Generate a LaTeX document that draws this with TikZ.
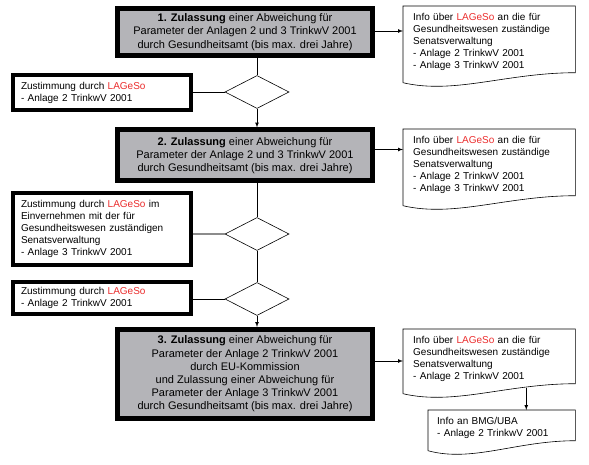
\documentclass[tikz,border=0pt]{standalone}
\usepackage{fontspec}
\setmainfont{Liberation Sans}
\usepackage{xcolor}
\usepackage{tikz}
\usetikzlibrary{shapes,arrows,positioning,calc}

\definecolor{boxgray}{RGB}{180,180,184}
\definecolor{lagesored}{RGB}{235,45,45}
\definecolor{linkgray}{RGB}{140,140,140}
\newcommand{\lageso}{\textcolor{lagesored}{LAGeSo}}
% document outline with wavy bottom
\newcommand{\docframe}[1]{%
  \draw[line width=0.6pt] ($(#1.south west)+(0,-5)$) -- (#1.north west) -- (#1.north east) -- ($(#1.south east)+(0,5)$)
    .. controls ($(#1.south west)!0.6!(#1.south east)+(0,5)$) and ($(#1.south west)!0.3!(#1.south east)+(0,-17)$)
    .. ($(#1.south west)+(0,-5)$);}

\begin{document}
\begin{tikzpicture}[x=1pt, y=1pt,
    mainbox/.style={rectangle, draw, line width=5pt, fill=boxgray, align=center, minimum width=255pt, inner sep=0pt, font=\fontsize{11}{13.2}\selectfont},
    sidebox/.style={rectangle, draw, line width=3.5pt, fill=white, align=left, text width=162pt, inner xsep=8pt, inner ysep=0pt, font=\fontsize{10}{12}\selectfont},
    docbox/.style={rectangle, anchor=north west, align=left, text width=152pt, inner xsep=10pt, inner ysep=7pt, font=\fontsize{10}{12}\selectfont},
    decision/.style={diamond, draw, line width=0.6pt, minimum width=64pt, minimum height=33pt, inner sep=0pt},
    link/.style={line width=0.7pt},
    arrow/.style={->, >=latex, line width=0.7pt}
]
    \useasboundingbox (0,0) rectangle (589,-465);

    % Main steps
    \node[mainbox, minimum height=47pt] (main1) at (245,-32) {\textbf{1. Zulassung} einer Abweichung für\\Parameter der Anlagen 2 und 3 TrinkwV 2001\\durch Gesundheitsamt (bis max. drei Jahre)};
    \node[mainbox, minimum height=51pt] (main2) at (245,-155.5) {\textbf{2. Zulassung} einer Abweichung für\\Parameter der Anlage 2 und 3 TrinkwV 2001\\durch Gesundheitsamt (bis max. drei Jahre)};
    \node[mainbox, minimum height=89pt] (main3) at (245,-374) {\textbf{3. Zulassung} einer Abweichung für\\Parameter der Anlage 2 TrinkwV 2001\\durch EU-Kommission\\und Zulassung einer Abweichung für\\Parameter der Anlage 3 TrinkwV 2001\\durch Gesundheitsamt (bis max. drei Jahre)};

    % Decisions
    \node[decision] (dec1) at (257,-92) {};
    \node[decision] (dec2) at (257,-234) {};
    \node[decision] (dec3) at (257,-299) {};

    % Approvals (left side)
    \node[sidebox, minimum height=35pt] (appr1) at (102,-92.5) {Zustimmung durch \lageso\\- Anlage 2 TrinkwV 2001};
    \node[sidebox, minimum height=72pt] (appr2) at (102,-229) {Zustimmung durch \lageso{} im\\Einvernehmen mit der für\\Gesundheitswesen zuständigen\\Senatsverwaltung\\- Anlage 3 TrinkwV 2001};
    \node[sidebox, minimum height=32pt] (appr3) at (102,-298) {Zustimmung durch \lageso\\- Anlage 2 TrinkwV 2001};

    % Info documents (right side)
    \node[docbox] (info1) at (403,-6) {Info über \lageso{} an die für\\Gesundheitswesen zuständige\\Senatsverwaltung\\- Anlage 2 TrinkwV 2001\\- Anlage 3 TrinkwV 2001};
    \node[docbox] (info2) at (403,-129) {Info über \lageso{} an die für\\Gesundheitswesen zuständige\\Senatsverwaltung\\- Anlage 2 TrinkwV 2001\\- Anlage 3 TrinkwV 2001};
    \node[docbox] (info3) at (403,-329) {Info über \lageso{} an die für\\Gesundheitswesen zuständige\\Senatsverwaltung\\- Anlage 2 TrinkwV 2001};
    \node[docbox, text width=129pt, inner xsep=9pt] (info4) at (428,-410) {Info an BMG/UBA\\- Anlage 2 TrinkwV 2001};
    \docframe{info1}
    \docframe{info2}
    \docframe{info3}
    \docframe{info4}

    % Main flow
    \draw[link] (main1.south -| dec1.north) -- (dec1.north);
    \draw[arrow] (dec1.south) -- (dec1.south |- main2.north);
    \draw[link] (main2.south -| dec2.north) -- (dec2.north);
    \draw[link] (dec2.south) -- (dec3.north);
    \draw[arrow] (dec3.south) -- (dec3.south |- main3.north);

    % Approvals to decisions
    \draw[link] (appr1.east |- dec1.west) -- (dec1.west);
    \draw[link, linkgray, line width=1.3pt] (appr2.east |- dec2.west) -- (dec2.west);
    \draw[link] (appr3.east |- dec3.west) -- (dec3.west);

    % Steps to info
    \coordinate (out1) at ([yshift=1pt]main1.east);
    \coordinate (out2) at ([yshift=6pt]main2.east);
    \coordinate (out3) at ([yshift=13pt]main3.east);
    \draw[arrow] (out1) -- (out1 -| info1.west);
    \draw[arrow] (out2) -- (out2 -| info2.west);
    \draw[arrow] (out3) -- (out3 -| info3.west);
    \coordinate (foot3) at ($(info3.south west)!0.715!(info3.south east)+(0,1)$);
    \draw[arrow] (foot3) -- (foot3 |- info4.north);

\end{tikzpicture}
\end{document}
